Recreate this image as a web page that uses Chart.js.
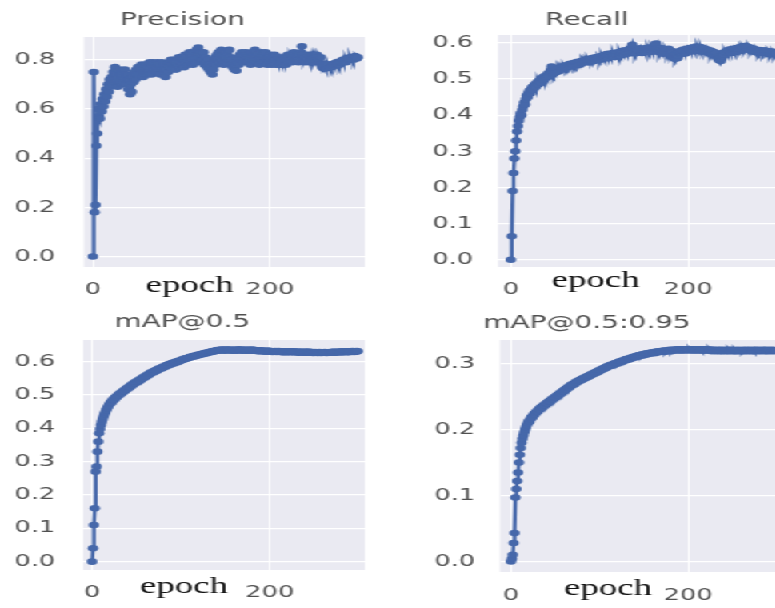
<!DOCTYPE html>
<html>
<head>
<meta charset="utf-8">
<script src="https://cdn.jsdelivr.net/npm/chart.js@4.4.1/dist/chart.umd.min.js"></script>
<style>
  html, body { margin: 0; padding: 0; background: #fff; overflow: hidden; width: 775px; height: 608px; }
  /* the whole figure is drawn narrow and stretched sideways */
  #stage { position: absolute; left: 0; top: 0; width: 495px; height: 608px; transform: scaleX(1.6); transform-origin: 0 0; }
  #stage canvas { position: absolute; }
</style>
</head>
<body>
<div id="stage">
  <canvas id="precision"></canvas>
  <canvas id="recall"></canvas>
  <canvas id="map50"></canvas>
  <canvas id="map5095"></canvas>
</div>
<script>
// per-epoch metrics, epochs 0..299
const precision = [
  0.00, 0.75, 0.18, 0.21, 0.45, 0.50, 0.60, 0.57, 0.56, 0.62, 0.59, 0.64, 0.61, 0.66, 0.63, 0.68, 0.65, 0.70, 0.67, 0.72,
  0.69, 0.73, 0.70, 0.75, 0.72, 0.77, 0.71, 0.74, 0.69, 0.73, 0.76, 0.71, 0.74, 0.70, 0.75, 0.72, 0.76, 0.73, 0.70, 0.74,
  0.68, 0.72, 0.66, 0.70, 0.67, 0.73, 0.71, 0.75, 0.72, 0.76, 0.74, 0.77, 0.73, 0.76, 0.74, 0.78, 0.75, 0.73, 0.77, 0.75,
  0.78, 0.74, 0.77, 0.75, 0.79, 0.76, 0.74, 0.78, 0.79, 0.76, 0.78, 0.75, 0.77, 0.79, 0.76, 0.78, 0.74, 0.77, 0.79, 0.76,
  0.78, 0.75, 0.73, 0.76, 0.78, 0.75, 0.79, 0.77, 0.80, 0.76, 0.78, 0.80, 0.77, 0.79, 0.76, 0.80, 0.78, 0.81, 0.77, 0.79,
  0.81, 0.78, 0.80, 0.77, 0.82, 0.79, 0.81, 0.78, 0.80, 0.83, 0.79, 0.82, 0.80, 0.78, 0.83, 0.81, 0.79, 0.84, 0.82, 0.85,
  0.81, 0.83, 0.79, 0.82, 0.80, 0.83, 0.78, 0.81, 0.79, 0.77, 0.80, 0.76, 0.78, 0.75, 0.77, 0.74, 0.76, 0.79, 0.81, 0.78,
  0.82, 0.80, 0.83, 0.79, 0.81, 0.84, 0.80, 0.82, 0.78, 0.81, 0.83, 0.79, 0.82, 0.80, 0.84, 0.81, 0.78, 0.80, 0.77, 0.79,
  0.76, 0.78, 0.755, 0.79, 0.81, 0.78, 0.82, 0.80, 0.83, 0.81, 0.79, 0.82, 0.80, 0.83, 0.81, 0.79, 0.82, 0.80, 0.78, 0.81,
  0.83, 0.80, 0.82, 0.84, 0.81, 0.79, 0.82, 0.80, 0.78, 0.81, 0.83, 0.80, 0.82, 0.79, 0.81, 0.83, 0.80, 0.78, 0.81, 0.79,
  0.82, 0.80, 0.78, 0.81, 0.79, 0.82, 0.80, 0.78, 0.80, 0.79, 0.81, 0.78, 0.80, 0.79, 0.78, 0.80, 0.79, 0.81, 0.78, 0.80,
  0.82, 0.79, 0.81, 0.80, 0.82, 0.79, 0.81, 0.83, 0.80, 0.82, 0.80, 0.81, 0.79, 0.82, 0.80, 0.83, 0.855, 0.82, 0.80, 0.81,
  0.79, 0.81, 0.80, 0.82, 0.80, 0.79, 0.81, 0.80, 0.82, 0.81, 0.79, 0.81, 0.80, 0.82, 0.81, 0.80, 0.79, 0.81, 0.78, 0.77,
  0.765, 0.77, 0.78, 0.77, 0.765, 0.78, 0.77, 0.775, 0.78, 0.77, 0.78, 0.775, 0.78, 0.785, 0.78, 0.79, 0.785, 0.79, 0.78, 0.79,
  0.795, 0.79, 0.80, 0.79, 0.795, 0.80, 0.79, 0.80, 0.805, 0.80, 0.81, 0.80, 0.805, 0.81, 0.80, 0.81, 0.815, 0.81, 0.805, 0.81
];
const recall = [
  0.000, 0.065, 0.190, 0.240, 0.280, 0.300, 0.330, 0.355, 0.370, 0.385, 0.395, 0.405, 0.400, 0.415, 0.425, 0.435, 0.430, 0.445, 0.455, 0.450,
  0.462, 0.468, 0.460, 0.472, 0.478, 0.470, 0.480, 0.485, 0.478, 0.488, 0.492, 0.485, 0.495, 0.498, 0.490, 0.502, 0.505, 0.498, 0.508, 0.502,
  0.510, 0.505, 0.515, 0.508, 0.518, 0.525, 0.535, 0.520, 0.515, 0.522, 0.518, 0.525, 0.520, 0.528, 0.522, 0.530, 0.525, 0.532, 0.528, 0.535,
  0.530, 0.536, 0.532, 0.538, 0.534, 0.540, 0.536, 0.542, 0.538, 0.535, 0.542, 0.539, 0.545, 0.540, 0.546, 0.542, 0.548, 0.544, 0.540, 0.547,
  0.550, 0.545, 0.551, 0.547, 0.553, 0.549, 0.555, 0.550, 0.546, 0.553, 0.557, 0.552, 0.558, 0.554, 0.550, 0.556, 0.560, 0.555, 0.561, 0.557,
  0.553, 0.560, 0.564, 0.558, 0.562, 0.566, 0.560, 0.565, 0.569, 0.563, 0.558, 0.566, 0.570, 0.564, 0.568, 0.572, 0.566, 0.561, 0.569, 0.573,
  0.567, 0.571, 0.575, 0.569, 0.565, 0.572, 0.578, 0.573, 0.568, 0.575, 0.580, 0.574, 0.570, 0.577, 0.583, 0.578, 0.588, 0.595, 0.582, 0.576,
  0.571, 0.578, 0.584, 0.579, 0.573, 0.580, 0.585, 0.577, 0.572, 0.579, 0.584, 0.578, 0.574, 0.581, 0.586, 0.580, 0.575, 0.582, 0.588, 0.583,
  0.577, 0.585, 0.590, 0.596, 0.598, 0.585, 0.579, 0.574, 0.581, 0.586, 0.580, 0.575, 0.570, 0.577, 0.583, 0.578, 0.572, 0.579, 0.584, 0.576,
  0.571, 0.578, 0.573, 0.566, 0.560, 0.556, 0.562, 0.568, 0.558, 0.565, 0.572, 0.578, 0.574, 0.570, 0.577, 0.582, 0.576, 0.571, 0.579, 0.584,
  0.578, 0.582, 0.586, 0.580, 0.576, 0.583, 0.588, 0.582, 0.578, 0.585, 0.590, 0.584, 0.580, 0.586, 0.589, 0.583, 0.579, 0.585, 0.581, 0.577,
  0.583, 0.578, 0.574, 0.580, 0.576, 0.571, 0.578, 0.573, 0.568, 0.575, 0.570, 0.565, 0.572, 0.561, 0.556, 0.552, 0.558, 0.550, 0.557, 0.563,
  0.569, 0.574, 0.568, 0.575, 0.579, 0.573, 0.577, 0.582, 0.576, 0.572, 0.579, 0.584, 0.578, 0.574, 0.581, 0.586, 0.580, 0.577, 0.583, 0.588,
  0.584, 0.590, 0.586, 0.582, 0.588, 0.592, 0.587, 0.583, 0.589, 0.584, 0.580, 0.586, 0.582, 0.578, 0.584, 0.579, 0.575, 0.581, 0.577, 0.573,
  0.579, 0.575, 0.580, 0.576, 0.572, 0.578, 0.574, 0.579, 0.575, 0.571, 0.577, 0.573, 0.569, 0.575, 0.571, 0.576, 0.572, 0.568, 0.574, 0.570
];
const map50 = [
  0.000, 0.040, 0.110, 0.160, 0.270, 0.285, 0.330, 0.360, 0.385, 0.398, 0.410, 0.420, 0.428, 0.436, 0.443, 0.449, 0.455, 0.460, 0.465, 0.470,
  0.474, 0.479, 0.477, 0.484, 0.488, 0.486, 0.492, 0.495, 0.493, 0.499, 0.502, 0.500, 0.506, 0.508, 0.506, 0.512, 0.514, 0.512, 0.518, 0.520,
  0.518, 0.523, 0.526, 0.524, 0.529, 0.532, 0.530, 0.535, 0.537, 0.535, 0.540, 0.542, 0.540, 0.545, 0.547, 0.545, 0.550, 0.552, 0.550, 0.555,
  0.557, 0.555, 0.560, 0.562, 0.560, 0.565, 0.567, 0.565, 0.569, 0.571, 0.569, 0.573, 0.575, 0.573, 0.577, 0.579, 0.577, 0.581, 0.582, 0.580,
  0.584, 0.586, 0.584, 0.588, 0.590, 0.588, 0.591, 0.593, 0.591, 0.594, 0.596, 0.594, 0.597, 0.598, 0.597, 0.600, 0.601, 0.599, 0.602, 0.603,
  0.604, 0.606, 0.605, 0.607, 0.609, 0.608, 0.610, 0.611, 0.610, 0.612, 0.614, 0.613, 0.615, 0.616, 0.615, 0.617, 0.618, 0.617, 0.619, 0.620,
  0.621, 0.620, 0.622, 0.623, 0.622, 0.624, 0.625, 0.624, 0.626, 0.627, 0.626, 0.628, 0.629, 0.628, 0.630, 0.631, 0.630, 0.632, 0.631, 0.633,
  0.634, 0.635, 0.633, 0.635, 0.634, 0.636, 0.634, 0.636, 0.635, 0.633, 0.635, 0.636, 0.634, 0.636, 0.635, 0.634, 0.636, 0.634, 0.633, 0.635,
  0.634, 0.636, 0.634, 0.633, 0.635, 0.637, 0.635, 0.634, 0.636, 0.634, 0.633, 0.635, 0.636, 0.634, 0.633, 0.635, 0.634, 0.636, 0.635, 0.633,
  0.634, 0.636, 0.635, 0.633, 0.634, 0.632, 0.634, 0.633, 0.631, 0.633, 0.634, 0.632, 0.631, 0.633, 0.632, 0.630, 0.632, 0.631, 0.633, 0.632,
  0.630, 0.632, 0.631, 0.629, 0.631, 0.630, 0.632, 0.631, 0.629, 0.630, 0.632, 0.630, 0.629, 0.631, 0.630, 0.628, 0.630, 0.629, 0.631, 0.630,
  0.628, 0.630, 0.629, 0.631, 0.630, 0.628, 0.629, 0.631, 0.630, 0.628, 0.629, 0.630, 0.628, 0.627, 0.629, 0.630, 0.628, 0.629, 0.627, 0.628,
  0.630, 0.629, 0.627, 0.628, 0.630, 0.628, 0.627, 0.629, 0.628, 0.626, 0.628, 0.629, 0.627, 0.628, 0.626, 0.627, 0.629, 0.628, 0.626, 0.627,
  0.628, 0.627, 0.629, 0.628, 0.626, 0.627, 0.628, 0.627, 0.629, 0.628, 0.627, 0.628, 0.630, 0.628, 0.627, 0.629, 0.628, 0.630, 0.629, 0.628,
  0.629, 0.631, 0.629, 0.628, 0.630, 0.629, 0.631, 0.630, 0.628, 0.630, 0.631, 0.629, 0.630, 0.632, 0.630, 0.629, 0.631, 0.630, 0.632, 0.631
];
const map5095 = [
  0.000, 0.004, 0.010, 0.028, 0.043, 0.097, 0.110, 0.122, 0.135, 0.150, 0.162, 0.172, 0.180, 0.186, 0.191, 0.196, 0.200, 0.204, 0.207, 0.210,
  0.213, 0.212, 0.216, 0.219, 0.218, 0.221, 0.224, 0.223, 0.226, 0.228, 0.227, 0.230, 0.232, 0.231, 0.234, 0.235, 0.234, 0.237, 0.238, 0.237,
  0.240, 0.241, 0.240, 0.243, 0.244, 0.243, 0.246, 0.247, 0.246, 0.249, 0.250, 0.249, 0.252, 0.253, 0.252, 0.255, 0.256, 0.255, 0.258, 0.259,
  0.258, 0.261, 0.262, 0.261, 0.264, 0.265, 0.264, 0.267, 0.268, 0.267, 0.269, 0.270, 0.269, 0.272, 0.273, 0.272, 0.274, 0.275, 0.274, 0.276,
  0.277, 0.276, 0.278, 0.279, 0.278, 0.280, 0.281, 0.280, 0.282, 0.283, 0.282, 0.284, 0.285, 0.284, 0.286, 0.287, 0.286, 0.288, 0.289, 0.288,
  0.290, 0.291, 0.290, 0.292, 0.293, 0.292, 0.294, 0.295, 0.294, 0.296, 0.297, 0.296, 0.298, 0.298, 0.297, 0.299, 0.300, 0.299, 0.301, 0.301,
  0.300, 0.302, 0.303, 0.302, 0.304, 0.304, 0.303, 0.305, 0.306, 0.305, 0.307, 0.307, 0.306, 0.308, 0.308, 0.307, 0.309, 0.310, 0.309, 0.310,
  0.311, 0.310, 0.312, 0.312, 0.311, 0.313, 0.313, 0.312, 0.314, 0.314, 0.313, 0.315, 0.315, 0.314, 0.316, 0.316, 0.315, 0.316, 0.317, 0.316,
  0.317, 0.317, 0.316, 0.318, 0.318, 0.317, 0.318, 0.319, 0.318, 0.319, 0.319, 0.318, 0.320, 0.319, 0.318, 0.320, 0.320, 0.319, 0.320, 0.321,
  0.320, 0.319, 0.321, 0.320, 0.321, 0.321, 0.320, 0.321, 0.322, 0.321, 0.320, 0.322, 0.321, 0.320, 0.321, 0.322, 0.321, 0.320, 0.322, 0.321,
  0.321, 0.322, 0.320, 0.321, 0.322, 0.321, 0.320, 0.322, 0.321, 0.320, 0.321, 0.322, 0.321, 0.320, 0.321, 0.322, 0.320, 0.321, 0.320, 0.322,
  0.321, 0.320, 0.321, 0.322, 0.320, 0.321, 0.320, 0.319, 0.321, 0.320, 0.321, 0.320, 0.319, 0.320, 0.321, 0.320, 0.319, 0.321, 0.320, 0.319,
  0.320, 0.321, 0.320, 0.319, 0.320, 0.321, 0.319, 0.320, 0.321, 0.320, 0.319, 0.320, 0.321, 0.319, 0.320, 0.319, 0.320, 0.321, 0.320, 0.319,
  0.320, 0.319, 0.321, 0.320, 0.319, 0.320, 0.321, 0.320, 0.319, 0.320, 0.321, 0.320, 0.319, 0.320, 0.321, 0.319, 0.320, 0.321, 0.320, 0.319,
  0.320, 0.321, 0.320, 0.319, 0.320, 0.321, 0.320, 0.319, 0.321, 0.320, 0.319, 0.320, 0.321, 0.320, 0.319, 0.320, 0.321, 0.320, 0.319, 0.320
];

// tick positions
const epochTicks = [0, 200];
const precisionTicks = [0.0, 0.2, 0.4, 0.6, 0.8];
const recallTicks = [0.0, 0.1, 0.2, 0.3, 0.4, 0.5, 0.6];
const map50Ticks = [0.0, 0.1, 0.2, 0.3, 0.4, 0.5, 0.6];
const map5095Ticks = [0.0, 0.1, 0.2, 0.3];

const BLUE = '#4668AA';
Chart.defaults.font.family = '"DejaVu Sans", sans-serif';
Chart.defaults.color = '#505050';

// seaborn-like grey plotting area
const plotBg = {
  id: 'plotBg',
  beforeDraw(chart) {
    const { ctx, chartArea: a } = chart;
    ctx.save();
    ctx.fillStyle = '#EAEAF2';
    ctx.fillRect(a.left, a.top, a.right - a.left, a.bottom - a.top);
    ctx.restore();
  }
};

// the "epoch" caption sitting between the x tick labels
const epochLabel = {
  id: 'epochLabel',
  afterDraw(chart, args, opts) {
    const { ctx, chartArea: a } = chart;
    ctx.save();
    ctx.font = '23px "Liberation Serif", serif';
    ctx.fillStyle = '#111111';
    ctx.textAlign = 'center';
    ctx.textBaseline = 'alphabetic';
    ctx.fillText(opts.text, a.left + opts.dx, a.bottom + opts.dy);
    ctx.restore();
  }
};

// panel layout (in unstretched px)
const panels = [
  { id: 'precision', title: 'Precision', values: precision, yTicks: precisionTicks,
    yMin: -0.0425, yMax: 0.8925, xMin: -10, xMax: 307,
    left: 0, top: 0, w: 245, h: 300, area: { left: 52.5, right: 228, top: 37, bottom: 267 },
    titleTop: 10, yPad: 18, xPad: 13, epochDx: 66, epochDy: 25 },
  { id: 'recall', title: 'Recall', values: recall, yTicks: recallTicks,
    yMin: -0.02, yMax: 0.622, xMin: -14.5, xMax: 306,
    left: 245, top: 0, w: 250, h: 300, area: { left: 66.25, right: 243.75, top: 35, bottom: 267 },
    titleTop: 10, yPad: 15.6, xPad: 13.5, epochDx: 61, epochDy: 20 },
  { id: 'map50', title: 'mAP@0.5', values: map50, yTicks: map50Ticks,
    yMin: -0.025, yMax: 0.665, xMin: -10, xMax: 307,
    left: 0, top: 300, w: 245, h: 308, area: { left: 52, right: 228, top: 40, bottom: 270 },
    titleTop: 12, yPad: 17.6, xPad: 13.5, epochDx: 63, epochDy: 23 },
  { id: 'map5095', title: 'mAP@0.5:0.95', values: map5095, yTicks: map5095Ticks,
    yMin: -0.016, yMax: 0.336, xMin: -12.4, xMax: 306,
    left: 245, top: 300, w: 250, h: 308, area: { left: 67.5, right: 243.75, top: 40, bottom: 272 },
    titleTop: 13, yPad: 15.6, xPad: 14.5, epochDx: 67.5, epochDy: 23 }
];

panels.forEach(p => {
  const canvas = document.getElementById(p.id);
  canvas.width = p.w;
  canvas.height = p.h;
  canvas.style.left = p.left + 'px';
  canvas.style.top = p.top + 'px';
  canvas.style.width = p.w + 'px';
  canvas.style.height = p.h + 'px';

  new Chart(canvas.getContext('2d'), {
    type: 'line',
    data: {
      datasets: [{
        data: p.values.map((v, i) => ({ x: i, y: v })),
        borderColor: BLUE,
        backgroundColor: BLUE,
        borderWidth: 2.4,
        pointRadius: 3.3,
        pointBorderWidth: 0,
        pointBackgroundColor: BLUE,
        tension: 0
      }]
    },
    options: {
      responsive: false,
      animation: false,
      events: [],
      layout: { padding: { left: 0, top: 0, bottom: 0, right: p.w - p.area.right } },
      plugins: {
        legend: { display: false },
        tooltip: { enabled: false },
        title: {
          display: true,
          text: p.title,
          color: '#505050',
          font: { size: 17.5, weight: 'normal', lineHeight: 1.2 },
          padding: { top: p.titleTop, bottom: p.area.top - p.titleTop - 21 }
        },
        epochLabel: { text: 'epoch', dx: p.epochDx, dy: p.epochDy }
      },
      scales: {
        x: {
          type: 'linear',
          min: p.xMin,
          max: p.xMax,
          border: { display: false },
          grid: { color: '#ffffff', lineWidth: 1, drawTicks: false },
          afterBuildTicks: s => { s.ticks = epochTicks.map(v => ({ value: v })); },
          afterFit: s => { s.height = p.h - p.area.bottom; },
          ticks: { padding: p.xPad, font: { size: 16 }, maxRotation: 0, callback: v => String(v) }
        },
        y: {
          min: p.yMin,
          max: p.yMax,
          border: { display: false },
          grid: { color: '#ffffff', lineWidth: 1.2, drawTicks: false },
          afterBuildTicks: s => { s.ticks = p.yTicks.map(v => ({ value: v })); },
          afterFit: s => { s.width = p.area.left; },
          ticks: { padding: p.yPad, font: { size: 16 }, callback: v => v.toFixed(1) }
        }
      }
    },
    plugins: [plotBg, epochLabel]
  });
});
</script>
</body>
</html>
